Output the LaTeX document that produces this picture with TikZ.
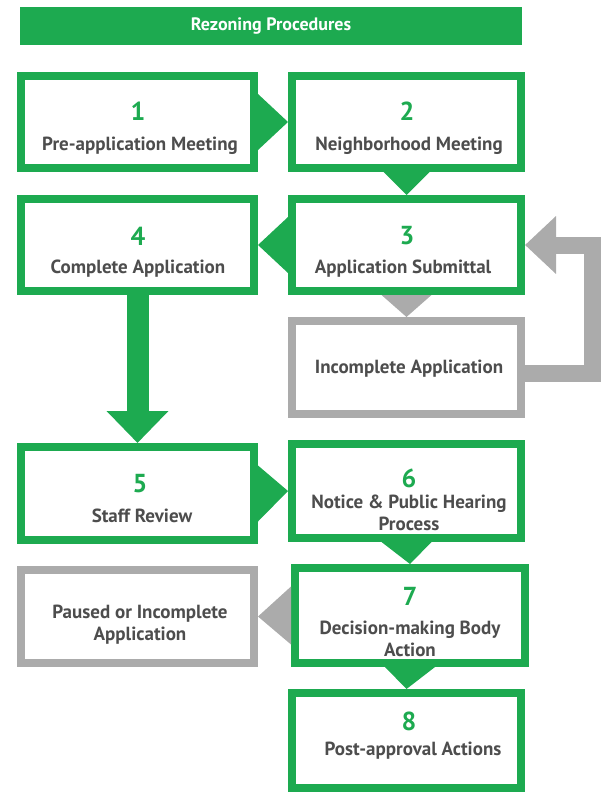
\documentclass[tikz,border=0pt]{standalone}
\usepackage{fontspec}
\setmainfont{PT Sans}
\usetikzlibrary{arrows.meta}
\definecolor{gr}{HTML}{1DAA50}
\definecolor{gy}{HTML}{ABABAB}
\definecolor{tx}{HTML}{4D4D4D}
\begin{document}
\begin{tikzpicture}[x=1pt,y=-1pt,
  stepbox/.style={draw=gr, line width=8pt, outer sep=4pt, fill=white, inner sep=0pt},
  pausebox/.style={draw=gy, line width=8pt, outer sep=4pt, fill=white, inner sep=0pt},
  num/.style={text=gr, font=\bfseries\fontsize{26}{26}\selectfont, inner sep=0pt},
  lbl/.style={text=tx, font=\bfseries\fontsize{19}{22}\selectfont, align=center, inner sep=0pt},
  tip/.style={fill=gr},
  greytip/.style={fill=gy}]
\useasboundingbox (0,0) rectangle (601,792);

% title bar
\node[fill=gr, minimum width=502pt, minimum height=38pt, inner sep=0pt,
      text=white, font=\bfseries\fontsize{18}{18}\selectfont] (title) at (271,26) {Rezoning Procedures};

% step boxes (outer size 241 x 100 / 237 x 100)
\node[stepbox, minimum width=233pt, minimum height=92pt] (b1) at (137.5,122) {};
\node[stepbox, minimum width=229pt, minimum height=92pt] (b2) at (406.5,122) {};
\node[stepbox, minimum width=233pt, minimum height=92pt] (b4) at (137.5,245) {};
\node[stepbox, minimum width=229pt, minimum height=92pt] (b3) at (406.5,245) {};
\node[pausebox, minimum width=229pt, minimum height=93pt] (inc) at (406.5,367.5) {};
\node[stepbox, minimum width=233pt, minimum height=93pt] (b5) at (137.5,493.5) {};
\node[stepbox, minimum width=229pt, minimum height=94pt] (b6) at (406.5,491) {};
\node[pausebox, minimum width=233pt, minimum height=93pt] (pau) at (137.5,616.5) {};
\node[stepbox, minimum width=230pt, minimum height=95pt] (b7) at (410,615.5) {};
\node[stepbox, minimum width=229pt, minimum height=95pt] (b8) at (406.5,740.5) {};

% numbers and labels
\node[num] (n1) at (138,111) {1};
\node[lbl] (t1) at (140,146) {Pre-application Meeting};
\node[num] (n2) at (407,111) {2};
\node[lbl] (t2) at (409,146) {Neighborhood Meeting};
\node[num] (n4) at (138,236) {4};
\node[lbl] (t4) at (138,269) {Complete Application};
\node[num] (n3) at (407,236) {3};
\node[lbl] (t3) at (403,269) {Application Submittal};
\node[lbl] (ti) at (409,369) {Incomplete Application};
\node[num] (n5) at (140,484) {5};
\node[lbl] (t5) at (142,516) {Staff Review};
\node[num] (n6) at (409,478) {6};
\node[lbl] (t6) at (409,513) {Notice \& Public Hearing\\Process};
\node[num] (n7) at (410,596) {7};
\node[lbl] (t7) at (410,639) {Decision-making Body\\Action};
\node[lbl] (tp) at (140,625) {Paused or Incomplete\\Application};
\node[num] (n8) at (409,721) {8};
\node[lbl] (t8) at (413,751) {Post-approval Actions};

% connectors between steps
\fill[tip] ([yshift=28pt]b1.east) -- (b2.west) -- ([yshift=-28pt]b1.east) -- cycle;
\fill[tip] ([xshift=-23pt]b2.south) -- (b3.north) -- ([xshift=23pt]b2.south) -- cycle;
\fill[tip] ([yshift=28pt]b3.west) -- (b4.east) -- ([yshift=-28pt]b3.west) -- cycle;
\fill[greytip] ([xshift=-25pt]b3.south) -- (inc.north) -- ([xshift=25pt]b3.south) -- cycle;
\draw[gr, line width=22pt, -{Triangle[width=60pt,length=32pt]}] (b4.south) -- (b5.north);
\fill[tip] ([yshift=28pt]b5.east) -- (b6.west) -- ([yshift=-28pt]b5.east) -- cycle;
\fill[tip] ([xshift=-25pt]b6.south) -- (b7.north) -- ([xshift=25pt]b6.south) -- cycle;
\fill[greytip] ([yshift=29pt]b7.west) -- (pau.east) -- ([yshift=-29pt]b7.west) -- cycle;
\fill[tip] ([xshift=-25pt]b7.south) -- (b8.north) -- ([xshift=25pt]b7.south) -- cycle;

% loop back from the incomplete application
\coordinate (loopR) at (592,0);
\draw[gy, line width=17pt, line join=miter, -{Triangle[width=56pt,length=31pt]}]
  ([yshift=-6pt]inc.east) -| (loopR |- b3.east) -- (b3.east);
\end{tikzpicture}
\end{document}
